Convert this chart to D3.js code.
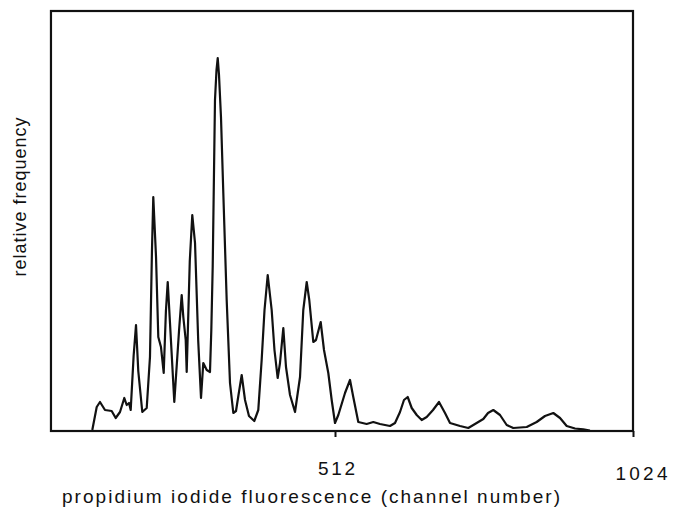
<!DOCTYPE html>
<html>
<head>
<meta charset="utf-8">
<script src="https://cdn.jsdelivr.net/npm/d3@7"></script>
<style>
  body { margin: 0; background: #fff; }
  text { font-family: "Liberation Sans", Arial, sans-serif; fill: #111; }
</style>
</head>
<body>
<div id="container"></div>
<script>
/* ---------- DATA ---------- */
// channel number
const channels = [
  95, 102.6, 108.2, 116.8, 128.3, 135.2, 142.6, 150, 154.1, 158.1, 161,
  166, 170.1, 174, 180.9, 188.5, 194.1, 197.5, 199.8, 204.5, 208.4, 213, 217.7,
  221.5, 224.6, 228.5, 235.9, 244, 248.6, 251.4, 255.5, 257.2, 262.5, 266.8,
  271.5, 277, 281.8, 285.7, 291.6, 297.2,
  299.5, 301.9, 305.8, 308.4, 310.5, 312.7, 316.1, 320.1, 325.9, 331.6, 337.3,
  341.9, 346.2, 351.7, 357.4, 364.2, 373.3, 380.2, 386, 390.9, 396.4, 403.2,
  408, 413.5, 417.5, 423.2, 427.8, 434.7, 443.3, 451.9, 457.5, 463.4, 467.8,
  474.7, 479.3, 487.4, 493.1, 500.5, 506.3, 512, 517.7, 529.2, 537.8, 543.4,
  552, 566.4, 577.8, 589.3, 606.5, 615.1, 623.7, 630.5, 636.9, 643.8, 652.4,
  661, 669.6, 680.4, 690.7, 701, 709.6, 726.8, 741, 755.4, 766.8, 774.9, 784,
  795.5, 807, 818.3, 841.4, 858.5, 872.8, 887.1, 898.6, 910.1, 924.4, 938.6, 950
];
// relative frequency (arbitrary units)
const frequency = [
  1, 24, 29, 21, 20, 13, 19, 33, 26, 28, 21,
  75, 106, 60, 19, 23, 74, 180, 234, 174, 94, 84, 58,
  120, 149, 108, 29, 100, 136, 114, 91, 59, 170, 216,
  188, 90, 33, 68, 61, 59,
  101, 165, 331, 361, 373, 356, 314, 238, 131, 48, 18,
  20, 36, 56, 31, 15, 10, 21, 71, 121, 156, 121,
  81, 53, 68, 103, 64, 36, 19, 54, 121, 149, 131,
  89, 91, 109, 81, 58, 31, 8, 16, 38, 51, 34,
  9, 7, 9, 7, 5, 8, 19, 31, 34, 23, 16,
  11, 14, 21, 29, 18, 8, 5, 3, 8, 12, 18, 21,
  16, 6, 3, 4, 9, 15, 18, 13, 5, 2.5, 1.7, 0.5
];
const tickValues = [512, 1024];
const xLabel = "propidium iodide fluorescence (channel number)";
const yLabel = "relative frequency";

/* ---------- CONSTANTS ---------- */
const width = 673,
  height = 508;

const data = channels.map((c, i) => ({ ch: c, f: frequency[i] }));

/* ---------- SCALES ---------- */
const xScale = d3.scaleLinear()
  .domain([0, 1024])
  .range([37, 633]);

const yScale = d3.scaleLinear()
  .domain([0, 420])
  .range([431, 11]);

const svg = d3.select("#container")
  .append("svg")
  .attr("width", width)
  .attr("height", height);

// frame (plot starts a little after channel 0)
svg.append("rect")
  .attr("x", xScale(24))
  .attr("y", yScale(420))
  .attr("width", xScale(1024) - xScale(24))
  .attr("height", yScale(0) - yScale(420))
  .attr("fill", "none")
  .attr("stroke", "#111")
  .attr("stroke-width", 2.2);

// + X AXIS (ticks only, frame is the domain line)
const xAxis = d3.axisBottom(xScale)
  .tickValues(tickValues)
  .tickFormat(d3.format("d"))
  .tickSize(6)
  .tickSizeOuter(0);

const gx = svg.append("g")
  .attr("transform", `translate(0,${yScale(0)})`)
  .call(xAxis);

gx.select(".domain").remove();
gx.selectAll(".tick line").attr("stroke", "#111").attr("stroke-width", 2);
gx.selectAll(".tick text")
  .attr("font-size", 19)
  .attr("fill", "#111")
  .attr("font-family", "Liberation Sans, Arial, sans-serif")
  .attr("y", d => d === 1024 ? 36 : 31)
  .attr("x", d => d === 1024 ? 8 : 1)
  .attr("textLength", d => d === 1024 ? 52 : 37)
  .attr("lengthAdjust", "spacing");

// + LINE
const line = d3.line()
  .x(d => xScale(d.ch))
  .y(d => yScale(d.f));

svg.append("path")
  .datum(data)
  .attr("d", line)
  .attr("fill", "none")
  .attr("stroke", "#111")
  .attr("stroke-width", 2.2)
  .attr("stroke-linejoin", "round");

// + AXIS LABELS
svg.append("text")
  .attr("x", 311)
  .attr("y", 503)
  .attr("text-anchor", "middle")
  .attr("font-size", 19)
  .attr("textLength", 498)
  .attr("lengthAdjust", "spacing")
  .text(xLabel);

svg.append("text")
  .attr("transform", "translate(26,197) rotate(-90)")
  .attr("text-anchor", "middle")
  .attr("font-size", 18)
  .attr("textLength", 159)
  .attr("lengthAdjust", "spacing")
  .text(yLabel);
</script>
</body>
</html>
